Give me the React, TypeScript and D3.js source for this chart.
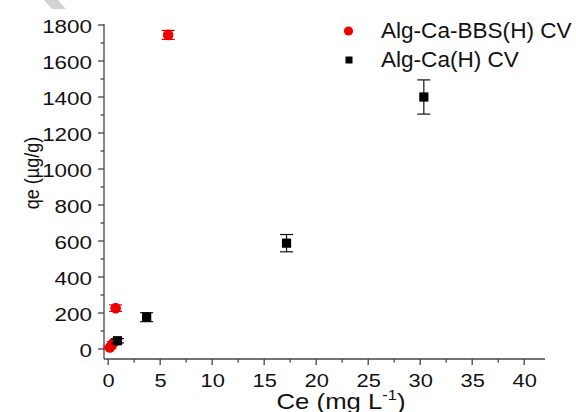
import * as d3 from 'd3';

// Alg-Ca-BBS(H) CV
const bbsCe = [0.16, 0.48, 0.72, 5.77];
const bbsQe = [9, 32, 227, 1745];
const bbsErr = [6, 8, 18, 25];

// Alg-Ca(H) CV
const caCe = [0.9, 3.7, 17.15, 30.35];
const caQe = [46, 177, 588, 1400];
const caErr = [12, 25, 48, 95];

const xTicks = [0, 5, 10, 15, 20, 25, 30, 35, 40];
const yTicks = [0, 200, 400, 600, 800, 1000, 1200, 1400, 1600, 1800];

const width = 576;
const height = 412;
const font = '"Liberation Sans", Arial, sans-serif';

const x = d3.scaleLinear().domain([-0.4, 42]).range([104, 545]);
const y = d3.scaleLinear().domain([-55.5, 1800]).range([359, 25]);

const SText = ({ x, y, sx = 1.15, size = 19, anchor = 'middle', children }: any) => (
  <text
    transform={`translate(${x},${y}) scale(${sx},1)`}
    fontSize={size}
    textAnchor={anchor}
    fontFamily={font}
    fill='#111'
  >
    {children}
  </text>
);

const ErrBar = ({ cx, v, e, color }: any) => (
  <g stroke={color} strokeWidth={1.2}>
    <line x1={x(cx)} x2={x(cx)} y1={y(v - e)} y2={y(v + e)} />
    <line x1={x(cx) - 6.5} x2={x(cx) + 6.5} y1={y(v - e)} y2={y(v - e)} />
    <line x1={x(cx) - 6.5} x2={x(cx) + 6.5} y1={y(v + e)} y2={y(v + e)} />
  </g>
);

export default function App() {
  const xMinor = d3.range(2.5, 42, 5);
  const yMinor = d3.range(100, 1800, 200);
  const x0 = x.range()[0];
  const y0 = y.range()[0];

  return (
    <svg
      width={width}
      height={height}
      style={{ position: 'absolute', left: 0, top: 0, background: '#fff' }}
    >
      {/* watermark fragment */}
      <polygon points='44,0 58,0 66,9 52,9' fill='#d3d3d3' />

      {/* axes */}
      <g stroke='#444' strokeWidth={1.3}>
        <line x1={x0} x2={x0} y1={y(1800) - 1} y2={y0} />
        <line x1={x0} x2={x.range()[1]} y1={y0} y2={y0} />
        {yTicks.map((t) => (
          <line key={'ym' + t} x1={x0 - 6} x2={x0} y1={y(t)} y2={y(t)} />
        ))}
        {yMinor.map((t) => (
          <line key={'yn' + t} x1={x0 - 3.5} x2={x0} y1={y(t)} y2={y(t)} />
        ))}
        {xTicks.map((t) => (
          <line key={'xm' + t} x1={x(t)} x2={x(t)} y1={y0} y2={y0 + 6} />
        ))}
        {xMinor.map((t) => (
          <line key={'xn' + t} x1={x(t)} x2={x(t)} y1={y0} y2={y0 + 3.5} />
        ))}
      </g>

      {yTicks.map((t) => (
        <SText key={'yl' + t} x={92} y={y(t) + 7.5} anchor='end' sx={1.18}>
          {t}
        </SText>
      ))}
      {xTicks.map((t) => (
        <SText key={'xl' + t} x={x(t) + 0.5} y={386.5}>
          {t}
        </SText>
      ))}

      {/* axis titles */}
      <text
        transform='translate(39,173) rotate(-90) scale(1,1.15)'
        fontSize={18}
        textAnchor='middle'
        fontFamily={font}
        fill='#111'
      >
        qe (µg/g)
      </text>
      <text
        transform='translate(341,409) scale(1.17,1)'
        fontSize={22}
        textAnchor='middle'
        fontFamily={font}
        fill='#111'
      >
        Ce (mg L
        <tspan fontSize={14} dy={-9}>
          -1
        </tspan>
        <tspan dy={9}>)</tspan>
      </text>

      {/* Alg-Ca-BBS(H) CV */}
      {bbsCe.map((c, i) => (
        <ErrBar key={'be' + i} cx={c} v={bbsQe[i]} e={bbsErr[i]} color='#e00000' />
      ))}
      {bbsCe.map((c, i) => (
        <circle key={'bp' + i} cx={x(c)} cy={y(bbsQe[i])} r={5.3} fill='#ee0000' />
      ))}

      {/* Alg-Ca(H) CV */}
      {caCe.map((c, i) => (
        <ErrBar key={'ce' + i} cx={c} v={caQe[i]} e={caErr[i]} color='#111' />
      ))}
      {caCe.map((c, i) => (
        <rect
          key={'cp' + i}
          x={x(c) - 4.6}
          y={y(caQe[i]) - 4.6}
          width={9.2}
          height={9.2}
          fill='#000'
        />
      ))}

      {/* legend */}
      <circle cx={348.5} cy={31} r={4.6} fill='#ee0000' />
      <SText x={381} y={37.5} anchor='start' sx={1.05} size={21.5}>
        Alg-Ca-BBS(H) CV
      </SText>
      <rect x={345.5} y={56.5} width={7} height={7} fill='#000' />
      <SText x={381} y={67} anchor='start' sx={1.05} size={21.5}>
        Alg-Ca(H) CV
      </SText>
    </svg>
  );
}
